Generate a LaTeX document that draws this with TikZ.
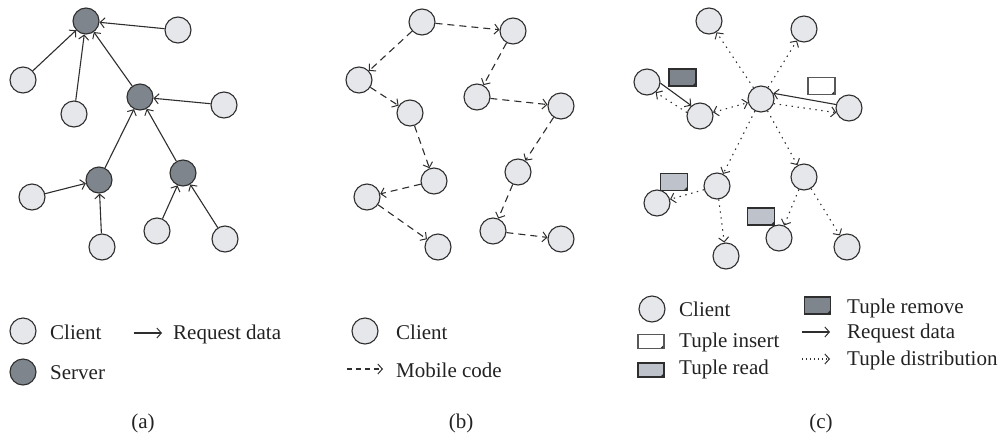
\documentclass[tikz,border=0pt]{standalone}
\usepackage{fontspec}
\setmainfont{Liberation Serif}
\usetikzlibrary{arrows.meta}
\definecolor{clientfill}{HTML}{E6E7EB}
\definecolor{serverfill}{HTML}{7E858C}
\definecolor{readfill}{HTML}{BEC3CB}
\definecolor{edgecol}{HTML}{2E2E2E}
\definecolor{textcol}{HTML}{222222}
\begin{document}
\begin{tikzpicture}[x=1pt,y=-1pt,
  client/.style={circle,draw=edgecol,line width=1.1pt,fill=clientfill,minimum size=26pt,inner sep=0pt},
  server/.style={client,fill=serverfill},
  barb/.style={-{Straight Barb[length=4.5pt,width=10pt,line width=1pt]}},
  req/.style={draw=edgecol,line width=1.1pt,barb},
  mob/.style={req,dash pattern=on 7pt off 5pt},
  dist/.style={req,dash pattern=on 1.4pt off 4.6pt},
  both/.style={draw=edgecol,line width=1.1pt,dash pattern=on 1.4pt off 4.6pt,
    {Straight Barb[length=4.5pt,width=10pt,line width=1pt]}-{Straight Barb[length=4.5pt,width=10pt,line width=1pt]}},
  tuple/.style={rectangle,draw=edgecol,line width=1.1pt,minimum width=27pt,minimum height=17pt,inner sep=0pt,
    path picture={\fill[edgecol] ([xshift=-4pt]path picture bounding box.south east)
      -- ([yshift=4pt]path picture bounding box.south east)
      -- (path picture bounding box.south east) -- cycle;}},
  tremove/.style={tuple,fill=serverfill},
  tinsert/.style={tuple,fill=white,draw=edgecol!80},
  tread/.style={tuple,fill=readfill},
  ltuple/.style={tuple,minimum width=26pt,minimum height=14pt},
  lbl/.style={font=\fontsize{21}{24}\selectfont,text=textcol,anchor=base west,inner sep=0pt},
  captext/.style={lbl,anchor=base}]

\path[use as bounding box] (0,0) rectangle (1002,437);

% ---------- (a) client/server ----------
\node[server] (s1) at (86,21) {};
\node[server] (s2) at (140,97) {};
\node[server] (s3) at (99,180) {};
\node[server] (s4) at (183,173) {};
\node[client] (a1) at (178,30) {};
\node[client] (a2) at (23,80) {};
\node[client] (a3) at (74,114) {};
\node[client] (a4) at (224,105) {};
\node[client] (a5) at (32,197) {};
\node[client] (a6) at (102,247) {};
\node[client] (a7) at (157,231) {};
\node[client] (a8) at (225,239) {};
\draw[req] (a1) -- (s1);
\draw[req] (a2) -- (s1);
\draw[req] (a3) -- (s1);
\draw[req] (s2) -- (s1);
\draw[req] (a4) -- (s2);
\draw[req] (s3) -- (s2);
\draw[req] (s4) -- (s2);
\draw[req] (a5) -- (s3);
\draw[req] (a6) -- (s3);
\draw[req] (a7) -- (s4);
\draw[req] (a8) -- (s4);

% legend (a)
\node[client] (la1) at (23,331) {};
\node[lbl] (la1t) at (50,339) {Client};
\node[server] (la2) at (23,372) {};
\node[lbl] (la2t) at (50,379) {Server};
\coordinate (la3s) at (134,333);
\coordinate (la3e) at (162,333);
\draw[req] (la3s) -- (la3e);
\node[lbl] (la3t) at (173,339) {Request data};
\node[captext] (capa) at (143,428) {(a)};

% ---------- (b) mobile code ----------
\node[client] (b1) at (422,22) {};
\node[client] (b2) at (513,31) {};
\node[client] (b3) at (359,80) {};
\node[client] (b4) at (477,97) {};
\node[client] (b5) at (410,113) {};
\node[client] (b6) at (561,106) {};
\node[client] (b7) at (434,181) {};
\node[client] (b8) at (518,172) {};
\node[client] (b9) at (367,197) {};
\node[client] (b10) at (493,231) {};
\node[client] (b11) at (438,247) {};
\node[client] (b12) at (561,239) {};
\draw[mob] (b1) -- (b2);
\draw[mob] (b1) -- (b3);
\draw[mob] (b3) -- (b5);
\draw[mob] (b5) -- (b7);
\draw[mob] (b7) -- (b9);
\draw[mob] (b9) -- (b11);
\draw[mob] (b2) -- (b4);
\draw[mob] (b4) -- (b6);
\draw[mob] (b6) -- (b8);
\draw[mob] (b8) -- (b10);
\draw[mob] (b10) -- (b12);

% legend (b)
\node[client] (lb1) at (365,331) {};
\node[lbl] (lb1t) at (396,339) {Client};
\coordinate (lb2s) at (347,369);
\coordinate (lb2e) at (383,369);
\draw[mob,dash pattern=on 5pt off 4pt] (lb2s) -- (lb2e);
\node[lbl] (lb2t) at (396,377) {Mobile code};
\node[captext] (capb) at (461,428) {(b)};

% ---------- (c) tuple space ----------
\node[client] (c0) at (761,99) {};
\node[client] (c1) at (709,21) {};
\node[client] (c2) at (804,29) {};
\node[client] (c3) at (647,82) {};
\node[client] (c4) at (700,116) {};
\node[client] (c5) at (849,108) {};
\node[client] (c6) at (717,186) {};
\node[client] (c7) at (804,177) {};
\node[client] (c8) at (657,203) {};
\node[client] (c9) at (726,256) {};
\node[client] (c10) at (779,238) {};
\node[client] (c11) at (847,247) {};
\draw[dist] (c0) -- (c1);
\draw[dist] (c0) -- (c2);
\draw[both] (c4) -- (c0);
\draw[dist] (c0.-20) -- (c5.200);
\draw[req] (c5.165) -- (c0.25);
\draw[dist] (c0) -- (c6);
\draw[dist] (c0) -- (c7);
\draw[req] (c3.-5) -- (c4.130);
\draw[dist] (c4.165) -- (c3.-50);
\draw[dist] (c6) -- (c8);
\draw[dist] (c6) -- (c9);
\draw[dist] (c7) -- (c10);
\draw[dist] (c7) -- (c11);
\node[tremove] (t1) at (682.5,77.5) {};
\node[tinsert] (t2) at (821.5,86) {};
\node[tread] (t3) at (674,182) {};
\node[tread] (t4) at (761,216.5) {};

% legend (c)
\node[client] (lc1) at (652,309) {};
\node[lbl] (lc1t) at (679,316) {Client};
\node[ltuple,fill=white,draw=edgecol!80] (lc2) at (651,341.5) {};
\node[lbl] (lc2t) at (679,347) {Tuple insert};
\node[ltuple,fill=readfill] (lc3) at (651,370) {};
\node[lbl] (lc3t) at (679,374) {Tuple read};
\node[ltuple,fill=serverfill,minimum height=17pt] (lc4) at (817.5,305.5) {};
\node[lbl] (lc4t) at (847,313) {Tuple remove};
\coordinate (lc5s) at (802,332);
\coordinate (lc5e) at (830,332);
\draw[req] (lc5s) -- (lc5e);
\node[lbl] (lc5t) at (847,338) {Request data};
\coordinate (lc6s) at (802,359);
\coordinate (lc6e) at (830,359);
\draw[dist,dash pattern=on 1pt off 3pt] (lc6s) -- (lc6e);
\node[lbl] (lc6t) at (847,365) {Tuple distribution};
\node[captext] (capc) at (821,428) {(c)};
\end{tikzpicture}
\end{document}
